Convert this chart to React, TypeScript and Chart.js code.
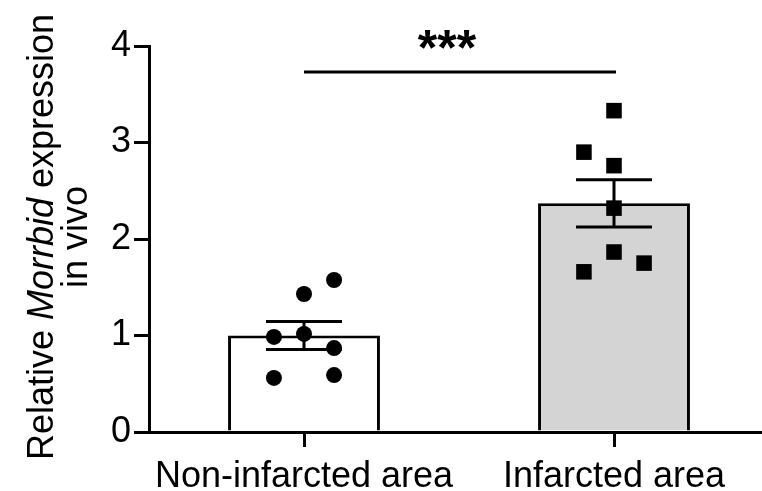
import React, { useEffect, useRef } from 'react';
import { Chart, registerables } from 'chart.js';

Chart.register(...registerables);

// ---- data ----
const CATEGORIES = ['Non-infarcted area', 'Infarcted area'];
const MEANS = [1.0, 2.37];
const SEMS = [0.145, 0.245];
const NON_INFARCTED_VALUES = [1.575, 1.43, 0.985, 1.016, 0.87, 0.59, 0.56];
const NON_INFARCTED_COLUMNS = [1, 0, -1, 0, 1, 1, -1];
const INFARCTED_VALUES = [3.33, 2.9, 2.76, 2.32, 1.865, 1.75, 1.66];
const INFARCTED_COLUMNS = [0, -1, 0, 0, 0, 1, -1];
const Y_TICKS = [0, 1, 2, 3, 4];
const SIG_Y = 3.73;
const SIG_LABEL = '***';
const Y_TITLE_LINE1 = [
  { text: 'Relative ', italic: false },
  { text: 'Morrbid', italic: true },
  { text: ' expression', italic: false },
];
const Y_TITLE_LINE2 = 'in vivo';

// ---- style ----
const FONT = "'Liberation Sans', Arial, Helvetica, sans-serif";
const JITTER = 0.097;

const annotations = {
  id: 'annotations',
  afterDatasetsDraw(chart: any) {
    const ctx = chart.ctx;
    const y = chart.scales.y;
    const x = chart.scales.x;
    const meta = chart.getDatasetMeta(0);
    ctx.save();
    ctx.strokeStyle = '#000';
    ctx.lineWidth = 3;
    ctx.lineCap = 'butt';
    // error bars (mean ± SEM)
    MEANS.forEach((m, i) => {
      const el = meta.data[i];
      const cx = el.x;
      const half = el.width * 0.25;
      const yt = y.getPixelForValue(m + SEMS[i]);
      const yb = y.getPixelForValue(m - SEMS[i]);
      ctx.beginPath();
      ctx.moveTo(cx, yt);
      ctx.lineTo(cx, yb);
      ctx.moveTo(cx - half, yt);
      ctx.lineTo(cx + half, yt);
      ctx.moveTo(cx - half, yb);
      ctx.lineTo(cx + half, yb);
      ctx.stroke();
    });
    // significance line
    const sy = y.getPixelForValue(SIG_Y);
    const x0 = x.getPixelForValue(0);
    const x1 = x.getPixelForValue(1) + 2;
    ctx.beginPath();
    ctx.moveTo(x0, sy);
    ctx.lineTo(x1, sy);
    ctx.stroke();
    ctx.fillStyle = '#000';
    ctx.font = `bold 50px ${FONT}`;
    ctx.textAlign = 'center';
    ctx.textBaseline = 'alphabetic';
    ctx.fillText(SIG_LABEL, (x0 + x1) / 2 - 13, sy - 7);
    ctx.restore();
  },
  afterDraw(chart: any) {
    const ctx = chart.ctx;
    const area = chart.chartArea;
    const cy = (area.top + area.bottom) / 2 - 2;
    ctx.save();
    ctx.fillStyle = '#000';
    ctx.textBaseline = 'alphabetic';
    ctx.textAlign = 'left';
    // line 1 (mixed italic)
    let total = 0;
    const widths = Y_TITLE_LINE1.map((seg) => {
      ctx.font = `${seg.italic ? 'italic ' : ''}36px ${FONT}`;
      const w = ctx.measureText(seg.text).width;
      total += w;
      return w;
    });
    ctx.save();
    ctx.translate(53, cy);
    ctx.rotate(-Math.PI / 2);
    let px = -total / 2;
    Y_TITLE_LINE1.forEach((seg, i) => {
      ctx.font = `${seg.italic ? 'italic ' : ''}36px ${FONT}`;
      ctx.fillText(seg.text, px, 0);
      px += widths[i];
    });
    ctx.restore();
    // line 2
    ctx.save();
    ctx.translate(87, cy);
    ctx.rotate(-Math.PI / 2);
    ctx.font = `36px ${FONT}`;
    ctx.textAlign = 'center';
    ctx.fillText(Y_TITLE_LINE2, 0, 0);
    ctx.restore();
    ctx.restore();
  },
};

export default function App() {
  const ref = useRef<HTMLCanvasElement | null>(null);
  useEffect(() => {
    if (!ref.current) return;
    const chart = new Chart(ref.current, {
      type: 'bar',
      data: {
        datasets: [
          {
            type: 'bar',
            data: MEANS.map((m, i) => ({ x: i, y: m })),
            backgroundColor: ['#ffffff', '#d4d4d4'],
            borderColor: '#000',
            borderWidth: 3,
            barPercentage: 0.49,
            categoryPercentage: 1,
            grouped: false,
            order: 2,
          } as any,
          {
            type: 'scatter',
            data: NON_INFARCTED_VALUES.map((v, i) => ({ x: 0 + NON_INFARCTED_COLUMNS[i] * JITTER, y: v })),
            pointStyle: 'circle',
            pointRadius: 8,
            pointBorderWidth: 0,
            backgroundColor: '#000',
            borderColor: '#000',
            order: 1,
          } as any,
          {
            type: 'scatter',
            data: INFARCTED_VALUES.map((v, i) => ({ x: 1 + INFARCTED_COLUMNS[i] * JITTER, y: v })),
            pointStyle: 'rect',
            pointRadius: 11,
            pointBorderWidth: 0,
            backgroundColor: '#000',
            borderColor: '#000',
            order: 1,
          } as any,
        ],
      },
      options: {
        responsive: false,
        animation: false,
        devicePixelRatio: 1,
        layout: { autoPadding: false, padding: { top: 46, right: 1, left: 0, bottom: 0 } },
        plugins: { legend: { display: false }, tooltip: { enabled: false } },
        scales: {
          x: {
            type: 'linear',
            min: -0.5,
            max: 1.5,
            offset: false,
            grid: {
              display: true,
              drawOnChartArea: false,
              offset: false,
              tickLength: 15,
              lineWidth: 3,
              color: '#000',
            },
            border: { display: true, color: '#000', width: 3 },
            ticks: {
              font: { family: FONT, size: 36 },
              color: '#000',
              padding: 8,
              maxRotation: 0,
              autoSkip: false,
              callback: (v: any) => CATEGORIES[v] ?? '',
            },
            afterBuildTicks: (s: any) => {
              s.ticks = CATEGORIES.map((_, i) => ({ value: i }));
            },
            afterFit: (s: any) => {
              s.height = 59;
              s.paddingLeft = 0;
              s.paddingRight = 0;
            },
          },
          y: {
            type: 'linear',
            min: 0,
            max: 4,
            grid: {
              display: true,
              drawOnChartArea: false,
              tickLength: 15,
              lineWidth: 3,
              color: '#000',
            },
            border: { display: true, color: '#000', width: 3 },
            ticks: {
              font: { family: FONT, size: 36 },
              color: '#000',
              padding: 3,
            },
            afterBuildTicks: (s: any) => {
              s.ticks = Y_TICKS.map((v) => ({ value: v }));
            },
            afterFit: (s: any) => {
              s.width = 149;
            },
          },
        },
      } as any,
      plugins: [annotations],
    });
    return () => chart.destroy();
  }, []);
  return (
    <div
      style={{
        position: 'fixed',
        left: 0,
        top: 0,
        width: 762,
        height: 491,
        overflow: 'hidden',
        background: '#fff',
      }}
    >
      <canvas ref={ref} width={770} height={491} style={{ display: 'block', width: 770, height: 491 }} />
    </div>
  );
}
